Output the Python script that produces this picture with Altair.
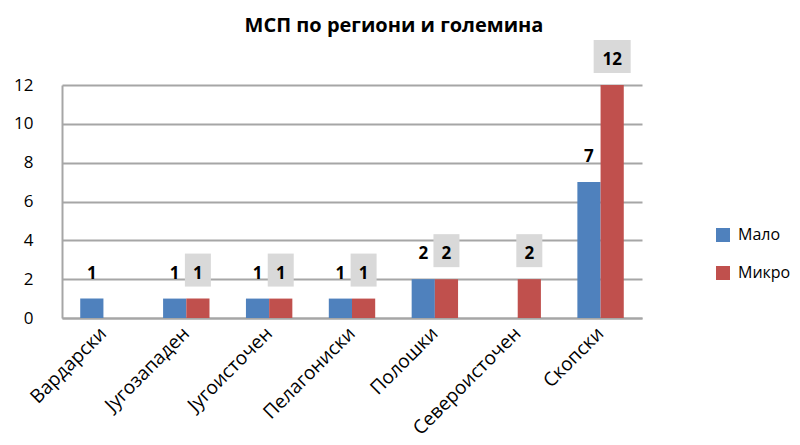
import altair as alt
import pandas as pd

regions = ["Вардарски", "Југозападен", "Југоисточен", "Пелагониски",
           "Полошки", "Североисточен", "Скопски"]
series = ["Мало", "Микро"]
malo = [1, 1, 1, 1, 2, None, 7]
mikro = [None, 1, 1, 1, 2, 2, 12]
colors = ["#4f81bd", "#c0504d"]
y_ticks = [0, 2, 4, 6, 8, 10, 12]

rows = []
for r, m, k in zip(regions, malo, mikro):
    if m is not None:
        rows.append({"region": r, "series": "Мало", "value": m})
    if k is not None:
        rows.append({"region": r, "series": "Микро", "value": k})
df = pd.DataFrame(rows)

FONT = "Open Sans"
GRID = "#a6a6a6"

x = alt.X("region:N", sort=regions, title=None,
          scale=alt.Scale(paddingInner=0.44, paddingOuter=0.22),
          axis=alt.Axis(labelAngle=-45, labelAlign="right", labelBaseline="middle",
                        labelFontSize=19, labelPadding=12, ticks=False,
                        domainColor=GRID, domainWidth=2, labelColor="black",
                        labelFont=FONT, labelOverlap=False))
xo = alt.XOffset("series:N", sort=series,
                 scale=alt.Scale(paddingInner=0, paddingOuter=0))
y = alt.Y("value:Q", title=None, scale=alt.Scale(domain=[0, 12]),
          axis=alt.Axis(values=y_ticks, grid=True, gridColor=GRID, gridWidth=2,
                        domainColor=GRID, domainWidth=2, ticks=False,
                        labelFontSize=17, labelPadding=29, labelColor="black",
                        labelFont=FONT, labelOverlap=False, labelFlush=False))
color = alt.Color("series:N", sort=series,
                  scale=alt.Scale(domain=series, range=colors),
                  legend=alt.Legend(title=None, orient="none", legendX=653, legendY=142,
                                    symbolType="square", symbolSize=196,
                                    symbolStrokeWidth=0, labelFontSize=16,
                                    labelFont=FONT, labelColor="black",
                                    rowPadding=22, labelOffset=7))

base = alt.Chart(df)

bars = base.mark_bar().encode(x=x, xOffset=xo, y=y, color=color)

micro = base.transform_filter(alt.datum.series == "Микро")
boxes1 = micro.transform_filter(alt.datum.value < 10).mark_bar(
    color="#d9d9d9", yOffset=-45, y2Offset=-12, width=26
).encode(x=x, xOffset=xo, y=y, y2=alt.Y2("value"))
boxes2 = micro.transform_filter(alt.datum.value >= 10).mark_bar(
    color="#d9d9d9", yOffset=-45, y2Offset=-12, width=37
).encode(x=x, xOffset=xo, y=y, y2=alt.Y2("value"))

labels = base.mark_text(dy=-25, fontWeight="bold", fontSize=17, font=FONT,
                        color="black").encode(
    x=x, xOffset=xo, y=y, text=alt.Text("value:Q"))

chart = alt.layer(bars, boxes1, boxes2, labels).properties(
    width=580, height=233,
    title=alt.TitleParams("МСП по региони и големина", fontSize=20,
                          fontWeight="bold", font=FONT, anchor="middle",
                          dx=42, offset=4, color="black"),
    autosize=alt.AutoSizeParams(type="none"),
    padding={"left": 54, "top": 77, "right": 150, "bottom": 119},
).configure_view(stroke=None)

chart.save("out.html", embed_options={"renderer": "svg", "actions": False})
